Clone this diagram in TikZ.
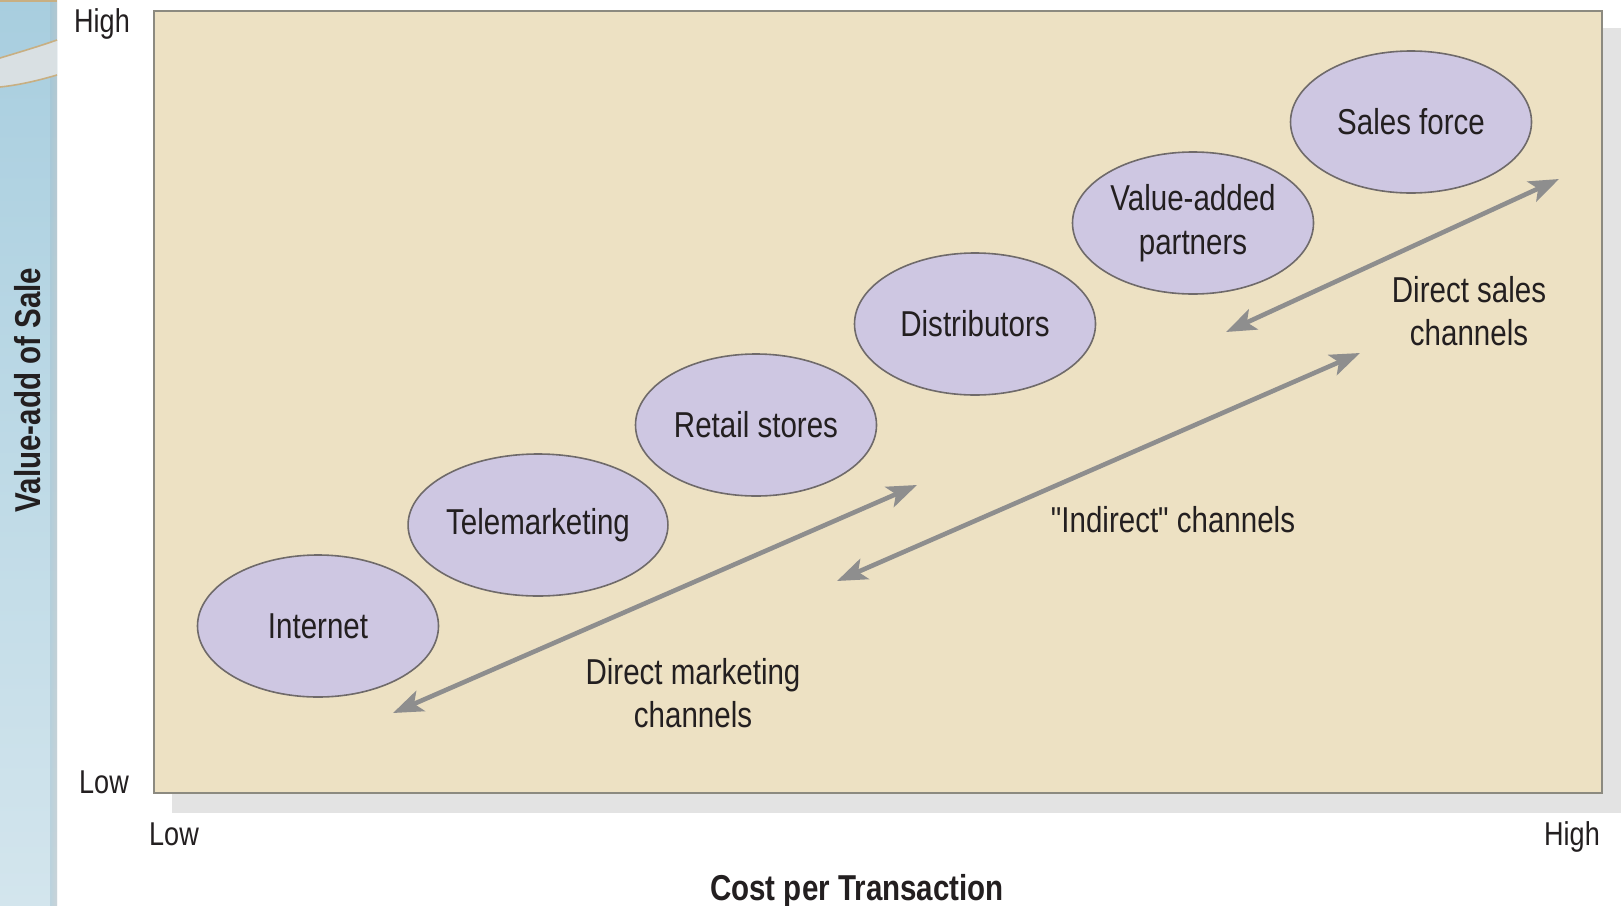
\documentclass[tikz,border=0pt]{standalone}
\usepackage{fontspec}
\setmainfont{Liberation Sans}[FakeStretch=0.82, Ligatures=TeXOff]
\usetikzlibrary{arrows.meta,shapes.geometric}
\definecolor{beige}{HTML}{EDE1C3}
\definecolor{lav}{HTML}{CEC7E2}
\definecolor{ellborder}{HTML}{6F6A6A}
\definecolor{frameborder}{HTML}{8C8A80}
\definecolor{shadowgray}{HTML}{E3E3E3}
\definecolor{arrowgray}{HTML}{8E8E8E}
\definecolor{txt}{HTML}{231F20}
\definecolor{bluetop}{HTML}{A8CEDF}
\definecolor{bluebot}{HTML}{D3E5ED}
\definecolor{band}{HTML}{D9E0E3}
\definecolor{bandedge}{HTML}{C8AF82}
\begin{document}
\begin{tikzpicture}[x=0.5pt,y=-0.5pt,
  oval/.style={ellipse, draw=ellborder, line width=0.8pt, fill=lav,
    minimum width=120.5pt, minimum height=71pt, inner sep=0pt,
    align=center, text=txt, font=\fontsize{18}{21.7}\selectfont},
  lbl/.style={align=center, text=txt, inner sep=0pt, font=\fontsize{18}{21.7}\selectfont},
  axlbl/.style={text=txt, inner sep=0pt, font=\fontsize{16.5}{19}\selectfont},
  axtitle/.style={text=txt, inner sep=0pt, font=\bfseries\fontsize{18}{21}\selectfont},
  chan/.style={draw=arrowgray, line width=2.3pt,
    {Stealth[length=15pt,width=11pt,inset=3.5pt]}-{Stealth[length=15pt,width=11pt,inset=3.5pt]}}
]
\useasboundingbox (0,0) rectangle (1621,905);
\fill[white] (0,0) rectangle (1621,905);
% left decorative strip
\shade[top color=bluetop, bottom color=bluebot] (0,0) rectangle (57,905);
\shade[left color=bluetop!80!gray, right color=gray!50, opacity=0.45] (50,0) rectangle (57,905);
\fill[band] (0,58) .. controls (20,52) and (40,46) .. (57,40) -- (57,75) .. controls (40,80) and (20,85) .. (0,87) -- cycle;
\draw[bandedge, line width=0.8pt] (0,58) .. controls (20,52) and (40,46) .. (57,40);
\draw[bandedge, line width=0.8pt] (0,87) .. controls (20,85) and (40,80) .. (57,75);
\draw[bandedge, line width=0.8pt] (0,1) -- (57,1);
% frame shadow and frame
\fill[shadowgray] (172,28) rectangle (1621,813);
\filldraw[fill=beige, draw=frameborder, line width=1.2pt] (154,11) rectangle (1602,793);
% axis labels
\node[axlbl, anchor=base] (yhigh) at (102,32) {High};
\node[axlbl, anchor=base] (ylow) at (104,793) {Low};
\node[axlbl, anchor=base] (xlow) at (174,845) {Low};
\node[axlbl, anchor=base] (xhigh) at (1572,845) {High};
\node[axtitle, rotate=90] (ytitle) at (28,390) {Value-add of Sale};
\node[axtitle, anchor=base] (xtitle) at (857,900) {Cost per Transaction};
% ellipses
\node[oval] (internet) at (318,626) {Internet};
\node[oval] (tele) at (538,525) {Telemarketing};
\node[oval] (retail) at (756,425) {Retail stores};
\node[oval] (dist) at (975,324) {Distributors};
\node[oval] (vap) at (1193,223) {Value-added\\partners};
\node[oval] (sales) at (1411,122) {Sales force};
% channel arrows
\coordinate (dm1) at (393,713);
\coordinate (dm2) at (917,485);
\coordinate (in1) at (837,581);
\coordinate (in2) at (1360,353);
\coordinate (ds1) at (1226,332);
\coordinate (ds2) at (1559,179);
\draw[chan] (dm1) -- (dm2);
\draw[chan] (in1) -- (in2);
\draw[chan] (ds1) -- (ds2);
% channel labels
\node[lbl] (dmlbl) at (693,693) {Direct marketing\\channels};
\node[lbl] (inlbl) at (1173,520) {"Indirect" channels};
\node[lbl] (dslbl) at (1469,311) {Direct sales\\channels};
\end{tikzpicture}
\end{document}
